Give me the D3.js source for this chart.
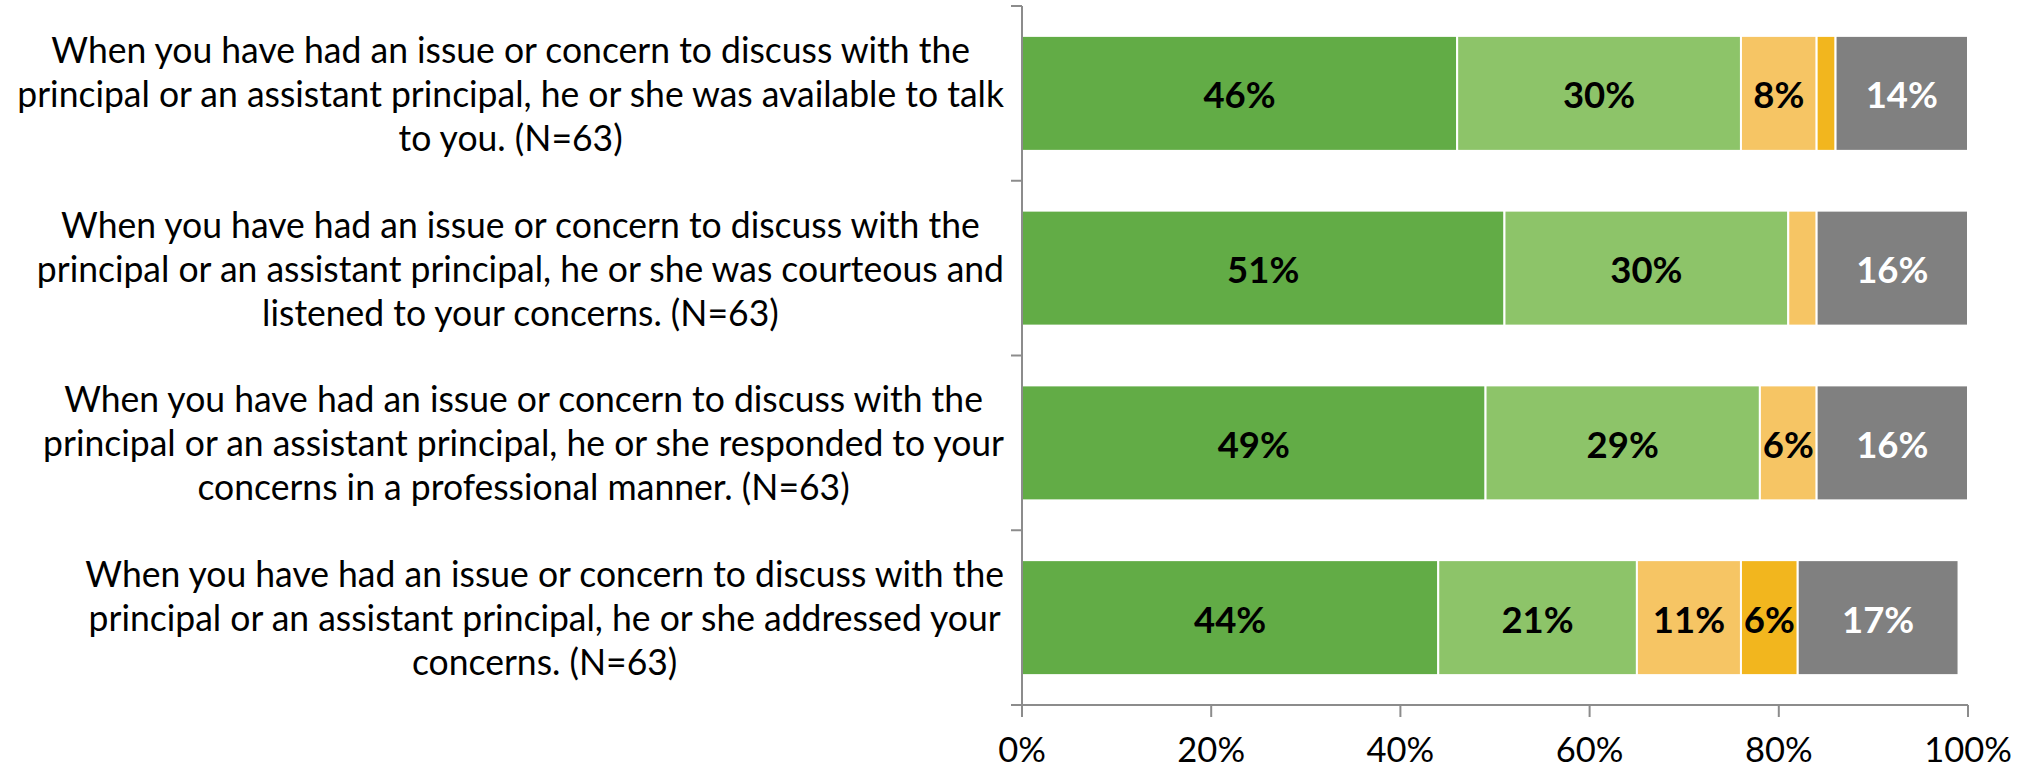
<!DOCTYPE html>
<html>
<head>
<meta charset="utf-8">
<script src="https://cdn.jsdelivr.net/npm/d3@7"></script>
<style>
  body { margin: 0; background: #fff; }
</style>
</head>
<body>
<div id="chart"></div>
<script>
const width = 2028;
const height = 769;

// categories (questions), wrapped the way the reference shows them
const categories = ["available", "courteous", "professional", "addressed"];
const categoryLines = [
  ["When you have had an issue or concern to discuss with the",
   "principal or an assistant principal, he or she was available to talk",
   "to you. (N=63)"],
  ["When you have had an issue or concern to discuss with the",
   "principal or an assistant principal, he or she was courteous and",
   "listened to your concerns. (N=63)"],
  ["When you have had an issue or concern to discuss with the",
   "principal or an assistant principal, he or she responded to your",
   "concerns in a professional manner. (N=63)"],
  ["When you have had an issue or concern to discuss with the",
   "principal or an assistant principal, he or she addressed your",
   "concerns. (N=63)"]
];

// series values in percent
const seriesKeys = ["stronglyAgree", "agree", "disagree", "stronglyDisagree", "dontKnow"];
const stronglyAgree    = [46, 51, 49, 44];
const agree            = [30, 30, 29, 21];
const disagree         = [8, 3, 6, 11];
const stronglyDisagree = [2, 0, 0, 6];
const dontKnow         = [14, 16, 16, 17];
const xTicks = [0, 20, 40, 60, 80, 100];

const colors = ["#62ac46", "#8dc469", "#f6c564", "#f2b61e", "#808080"];
const labelColors = ["#000", "#000", "#000", "#000", "#fff"];

const table = categories.map((c, i) => ({
  category: c,
  stronglyAgree: stronglyAgree[i],
  agree: agree[i],
  disagree: disagree[i],
  stronglyDisagree: stronglyDisagree[i],
  dontKnow: dontKnow[i]
}));

const font = "Lato, 'Open Sans', 'Noto Sans', sans-serif";
const fontSize = 36;

const x = d3.scaleLinear().domain([0, 100]).range([1022, 1968]);
const y = d3.scaleBand()
  .domain(categories)
  .range([6, 705])
  .paddingInner(0.342)
  .paddingOuter(0.171);

const svg = d3.select("#chart")
  .append("svg")
    .attr("width", width)
    .attr("height", height)
    .style("font-family", font);

// measure the chosen font so text can be narrowed to Calibri-like width
const probe = svg.append("text")
  .attr("font-size", fontSize)
  .text(categoryLines[0][1]);
const k = 987 / probe.node().getComputedTextLength();
probe.remove();

function narrowText(g, str, cx, cy, opts) {
  return g.append("text")
    .attr("transform", "translate(" + cx + "," + cy + ") scale(" + k + ",1)")
    .attr("text-anchor", "middle")
    .attr("dominant-baseline", "central")
    .attr("font-size", opts.size || fontSize)
    .attr("font-weight", opts.weight || "normal")
    .attr("fill", opts.fill || "#000")
    .text(str);
}

// stacked bars
const stack = d3.stack().keys(seriesKeys);
const stacked = stack(table);

const layers = svg.append("g")
  .selectAll("g")
  .data(stacked)
  .enter()
  .append("g")
    .attr("fill", (d, i) => colors[i]);

layers.selectAll("rect")
  .data(d => d)
  .enter()
  .append("rect")
    .attr("x", d => x(d[0]))
    .attr("y", d => y(d.data.category))
    .attr("width", d => x(d[1]) - x(d[0]))
    .attr("height", y.bandwidth())
    .attr("stroke", "#fff")
    .attr("stroke-width", 2);

// value labels, small slices are left unlabeled as in the source
const labelG = svg.append("g");
stacked.forEach((layer, si) => {
  layer.forEach(d => {
    const v = d[1] - d[0];
    if (v < 5) return;
    narrowText(labelG, v + "%",
      (x(d[0]) + x(d[1])) / 2,
      y(d.data.category) + y.bandwidth() / 2 + 1,
      { weight: "bold", fill: labelColors[si], size: 37 });
  });
});

// axes
const axisColor = "#8c8c8c";
const axes = svg.append("g")
  .attr("stroke", axisColor)
  .attr("stroke-width", 2)
  .attr("fill", "none");

const yTop = y.range()[0], yBottom = y.range()[1];
axes.append("line")
  .attr("x1", x(0)).attr("x2", x(0))
  .attr("y1", yTop).attr("y2", yBottom);
d3.range(categories.length + 1).forEach(i => {
  const yy = yTop + i * y.step();
  axes.append("line")
    .attr("x1", x(0) - 11).attr("x2", x(0))
    .attr("y1", yy).attr("y2", yy);
});

axes.append("line")
  .attr("x1", x(0)).attr("x2", x(100))
  .attr("y1", yBottom).attr("y2", yBottom);
xTicks.forEach(t => {
  axes.append("line")
    .attr("x1", x(t)).attr("x2", x(t))
    .attr("y1", yBottom).attr("y2", yBottom + 12);
});

const tickG = svg.append("g");
xTicks.forEach(t => {
  narrowText(tickG, t + "%", x(t), 748, { size: 35 });
});

// category labels: block right-aligned near the axis, lines centred in block
const catG = svg.append("g");
const lineGap = 44;
const rightEdge = 1004;
categories.forEach((c, i) => {
  const lines = categoryLines[i];
  const cy = y(c) + y.bandwidth() / 2;
  const nodes = lines.map((ln, j) =>
    narrowText(catG, ln, 0, cy + (j - (lines.length - 1) / 2) * lineGap, {}));
  const maxW = d3.max(nodes, n => n.node().getComputedTextLength() * k);
  const cx = rightEdge - maxW / 2;
  nodes.forEach((n, j) => {
    n.attr("transform", "translate(" + cx + "," + (cy + (j - (lines.length - 1) / 2) * lineGap) + ") scale(" + k + ",1)");
  });
});
</script>
</body>
</html>
